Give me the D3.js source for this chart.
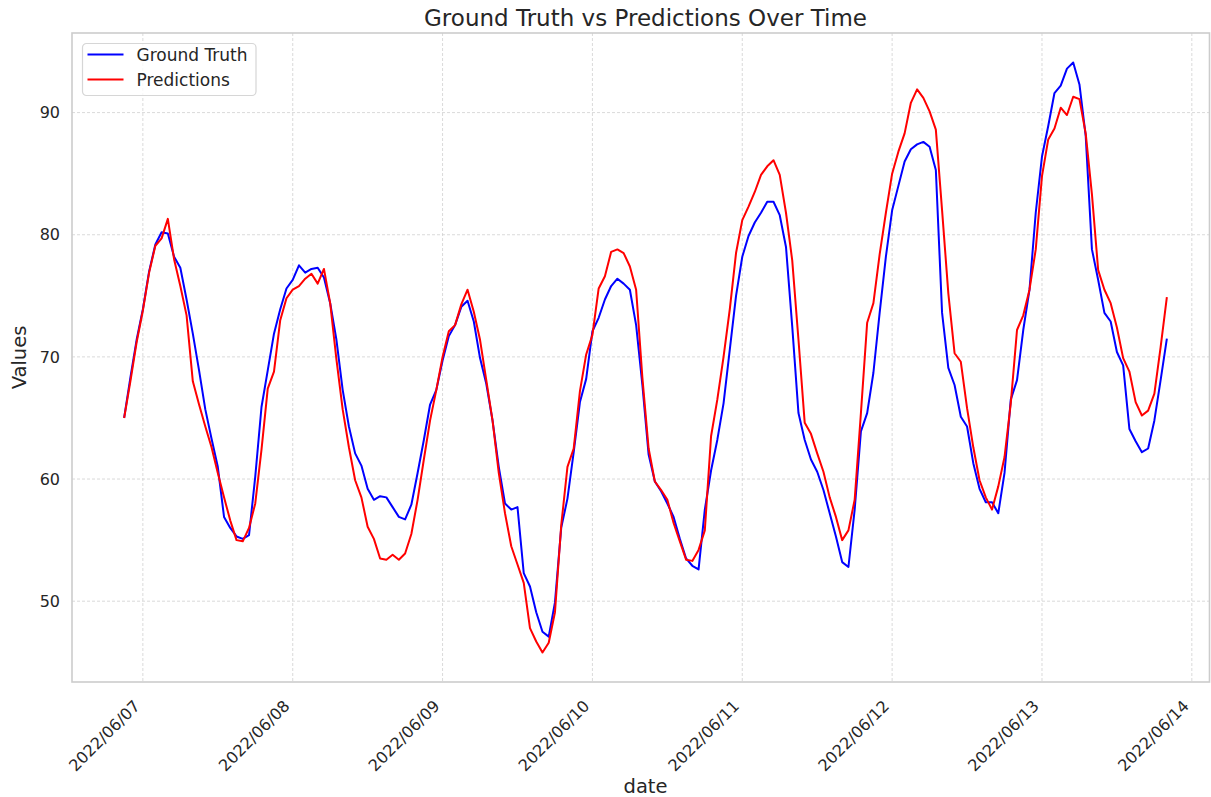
<!DOCTYPE html>
<html>
<head>
<meta charset="utf-8">
<script src="https://cdn.jsdelivr.net/npm/d3@7"></script>
<style>
  body { margin: 0; background: #fff; }
  text { font-family: "DejaVu Sans", sans-serif; fill: #262626; }
</style>
</head>
<body>
<div id="chart"></div>
<script>
// hourly series, first reading 2022/06/06 21:00
var startTime = new Date(2022, 5, 6, 21);

var groundTruth = [
  65.0, 68.3, 71.4, 73.9, 77.0, 79.2, 80.2, 80.1, 78.2, 77.3,
  74.7, 71.9, 68.9, 65.7, 63.3, 61.0, 56.9, 56.0, 55.3, 55.1, 55.4, 60.2, 65.9,
  68.9, 71.9, 73.9, 75.6, 76.3, 77.5, 76.9, 77.2, 77.3, 76.5, 74.4, 71.4, 67.3, 64.3, 62.1, 61.1, 59.2, 58.3, 58.6, 58.5, 57.7, 56.9,
  56.7, 57.9, 60.5, 63.2, 66.1, 67.3, 69.7, 71.7, 72.6, 74.1, 74.6, 72.9, 69.9, 67.8, 64.8, 61.0, 58.0, 57.5, 57.7, 52.3, 51.2, 49.1, 47.5, 47.1,
  49.9, 56.0, 58.4, 62.2, 66.3, 68.2, 72.1, 73.2, 74.7, 75.8, 76.4, 76.0, 75.5, 72.6, 67.7, 62.0, 59.8, 59.0, 58.0, 56.9, 55.1, 53.5, 52.9,
  52.6, 57.5, 60.7, 63.2, 66.2, 70.6, 75.0, 78.2, 79.9, 81.0, 81.8, 82.7, 82.7, 81.6, 79.0, 72.5, 65.4, 63.2, 61.6, 60.6, 59.1, 57.2, 55.3, 53.2,
  52.8, 57.5, 63.9, 65.4, 68.7, 73.6, 78.2, 82.0, 84.0, 86.0, 87.0, 87.4, 87.6, 87.2, 85.3, 73.6, 69.1, 67.7, 65.1, 64.3, 61.3, 59.2, 58.1,
  58.1, 57.2, 60.5, 66.5, 68.1, 72.2, 75.5, 81.8, 86.4, 88.9, 91.6, 92.2, 93.6, 94.1, 92.3, 88.1, 78.8, 76.3, 73.6, 72.9, 70.4, 69.3, 64.1, 63.1, 62.2, 62.5, 64.8, 68.1, 71.5
];

var predictions = [
  65.0, 68.0, 71.2, 73.8, 76.9, 79.1, 79.7, 81.3, 78.0, 75.8,
  73.4, 68.0, 66.1, 64.3, 62.6, 60.5, 58.5, 56.6, 55.0, 54.9, 56.0, 58.0, 62.4,
  67.4, 68.8, 73.0, 74.8, 75.5, 75.8, 76.4, 76.8, 76.0, 77.2, 74.4, 69.8, 65.7, 62.6, 59.9, 58.5, 56.1, 55.1, 53.5, 53.4, 53.8, 53.4,
  53.9, 55.5, 58.3, 61.6, 64.8, 67.3, 70.0, 72.1, 72.6, 74.3, 75.5, 73.7, 71.4, 68.1, 64.8, 60.5, 57.2, 54.5, 53.0, 51.5, 47.8, 46.7, 45.8, 46.6,
  49.1, 56.2, 61.0, 62.5, 67.2, 70.2, 71.8, 75.6, 76.6, 78.6, 78.8, 78.5, 77.4, 75.5, 68.3, 62.5, 59.8, 59.1, 58.3, 56.4, 54.9, 53.4, 53.3,
  54.2, 55.8, 63.5, 66.5, 70.0, 73.9, 78.5, 81.2, 82.3, 83.5, 84.9, 85.6, 86.1, 84.9, 81.8, 77.9, 71.4, 64.6, 63.7, 62.1, 60.6, 58.5, 56.9, 55.0,
  55.8, 58.3, 65.4, 72.8, 74.4, 78.4, 81.8, 85.0, 86.8, 88.3, 90.8, 91.9, 91.2, 90.1, 88.6, 82.0, 75.2, 70.3, 69.6, 65.8, 62.6, 59.9, 58.5,
  57.5, 59.4, 61.8, 66.2, 72.2, 73.4, 75.5, 78.8, 84.8, 87.8, 88.7, 90.4, 89.8, 91.3, 91.1, 88.3, 83.3, 77.1, 75.5, 74.4, 72.4, 69.9, 68.8, 66.3, 65.2, 65.6, 67.0, 70.8, 74.9
];

var yTicks = [50, 60, 70, 80, 90];
var seriesNames = ["Ground Truth", "Predictions"];
var seriesColors = ["#0000ff", "#ff0000"];

var width = 1211, height = 797;
var margin = {top: 33, right: 1219, bottom: 682, left: 72};   // axes box in pixels

var times = groundTruth.map(function(d, i) { return d3.timeHour.offset(startTime, i); });

var svg = d3.select("#chart")
  .append("svg")
    .attr("width", width)
    .attr("height", height);

// matplotlib style 5% padding around the data
var t0 = times[0], t1 = times[times.length - 1];
var tPad = (t1 - t0) * 0.05;
var x = d3.scaleTime()
  .domain([new Date(+t0 - tPad), new Date(+t1 + tPad)])
  .range([margin.left, margin.right]);

var allVals = groundTruth.concat(predictions);
var vMin = d3.min(allVals), vMax = d3.max(allVals);
var vPad = (vMax - vMin) * 0.05;
var y = d3.scaleLinear()
  .domain([vMin - vPad, vMax + vPad])
  .range([margin.bottom, margin.top]);

var dayTicks = d3.timeDay.range(d3.timeDay.ceil(x.domain()[0]), x.domain()[1]);

// grid
svg.append("g")
  .selectAll("line")
  .data(yTicks)
  .enter().append("line")
    .attr("x1", margin.left).attr("x2", margin.right)
    .attr("y1", function(d) { return y(d); })
    .attr("y2", function(d) { return y(d); })
    .attr("stroke", "#d0d0d0")
    .attr("stroke-width", 0.8)
    .attr("stroke-dasharray", "3,2");

svg.append("g")
  .selectAll("line")
  .data(dayTicks)
  .enter().append("line")
    .attr("x1", function(d) { return x(d); })
    .attr("x2", function(d) { return x(d); })
    .attr("y1", margin.top).attr("y2", margin.bottom)
    .attr("stroke", "#d0d0d0")
    .attr("stroke-width", 0.8)
    .attr("stroke-dasharray", "3,2");

// frame (right side is cut by the figure edge)
var frameRight = Math.min(margin.right, width - 1.5);
svg.append("rect")
  .attr("x", margin.left)
  .attr("y", margin.top)
  .attr("width", frameRight - margin.left)
  .attr("height", margin.bottom - margin.top)
  .attr("fill", "none")
  .attr("stroke", "#cccccc")
  .attr("stroke-width", 1.6);

// tick labels
svg.append("g")
  .selectAll("text")
  .data(yTicks)
  .enter().append("text")
    .attr("x", margin.left - 12)
    .attr("y", function(d) { return y(d); })
    .attr("dy", "0.36em")
    .style("text-anchor", "end")
    .style("font-size", "16px")
    .text(function(d) { return d; });

var fmt = d3.timeFormat("%Y/%m/%d");
svg.append("g")
  .selectAll("text")
  .data(dayTicks)
  .enter().append("text")
    .attr("transform", function(d) {
      return "translate(" + (x(d) - 2) + "," + (margin.bottom + 25) + ") rotate(-45)";
    })
    .style("text-anchor", "end")
    .style("font-size", "16px")
    .text(function(d) { return fmt(d); });

// axis labels + title
svg.append("text")
  .attr("transform", "translate(26," + ((margin.top + margin.bottom) / 2) + ") rotate(-90)")
  .style("text-anchor", "middle")
  .style("font-size", "19.5px")
  .text("Values");

svg.append("text")
  .attr("x", (margin.left + margin.right) / 2)
  .attr("y", 793)
  .style("text-anchor", "middle")
  .style("font-size", "19.5px")
  .text("date");

svg.append("text")
  .attr("x", (margin.left + margin.right) / 2)
  .attr("y", 26)
  .style("text-anchor", "middle")
  .style("font-size", "23px")
  .text("Ground Truth vs Predictions Over Time");

// lines
var line = d3.line()
  .x(function(d, i) { return x(times[i]); })
  .y(function(d) { return y(d); });

[groundTruth, predictions].forEach(function(series, k) {
  svg.append("path")
    .datum(series)
    .attr("fill", "none")
    .attr("stroke", seriesColors[k])
    .attr("stroke-width", 2)
    .attr("stroke-linejoin", "round")
    .attr("d", line);
});

// legend
var lg = svg.append("g").attr("transform", "translate(82.5,43.5)");
lg.append("rect")
  .attr("width", 173.5)
  .attr("height", 52)
  .attr("rx", 4)
  .attr("fill", "#fff")
  .attr("fill-opacity", 0.8)
  .attr("stroke", "#d6d6d6")
  .attr("stroke-width", 1.2);
seriesNames.forEach(function(name, k) {
  lg.append("line")
    .attr("x1", 5).attr("x2", 41)
    .attr("y1", 11 + k * 25).attr("y2", 11 + k * 25)
    .attr("stroke", seriesColors[k])
    .attr("stroke-width", 2);
  lg.append("text")
    .attr("x", 54)
    .attr("y", 17 + k * 25)
    .style("font-size", "17px")
    .text(name);
});
</script>
</body>
</html>
